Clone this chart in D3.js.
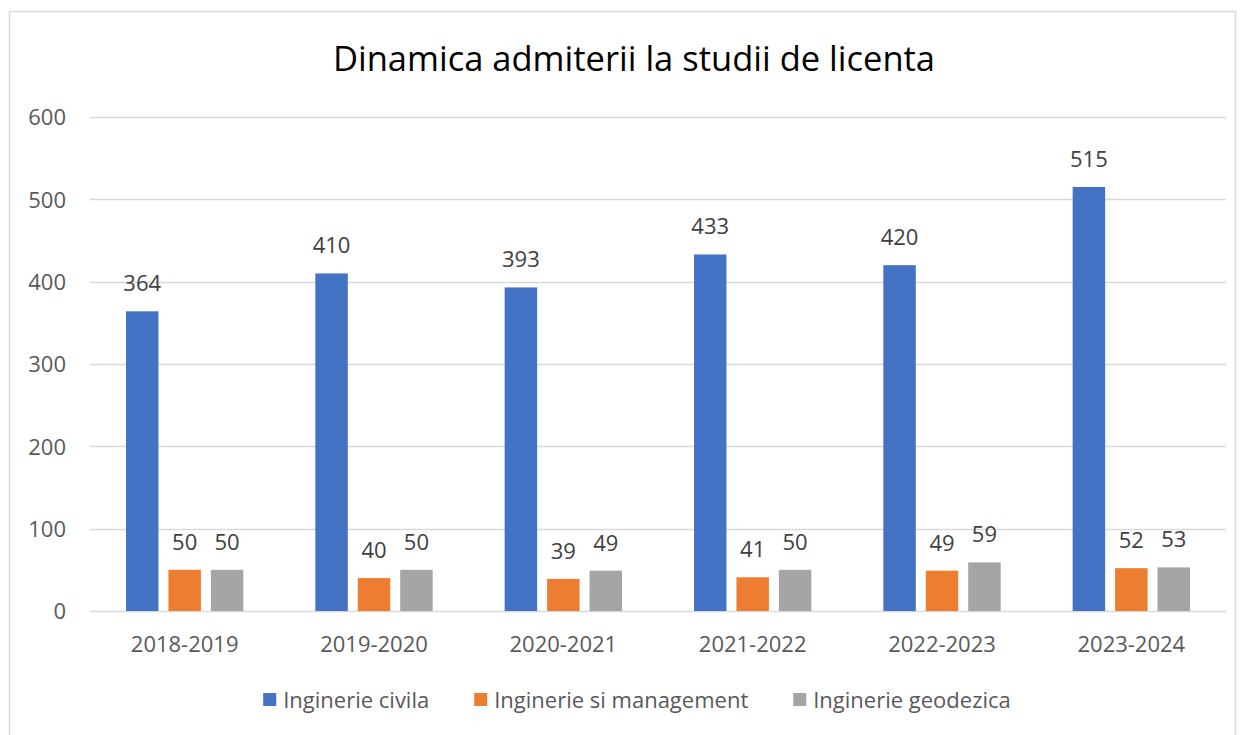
<!DOCTYPE html>
<html>
<head>
<meta charset="UTF-8">
<title>Dinamica admiterii la studii de licenta</title>
<script src="https://d3js.org/d3.v7.min.js"></script>
<style>
    body { margin: 0; background: #fff; }
    svg { display: block; font-family: "Open Sans", "Noto Sans", sans-serif; }
</style>
</head>
<body>
<svg id="chart" width="1245" height="735"></svg>
<script>
    // date
    const years = ["2018-2019", "2019-2020", "2020-2021", "2021-2022", "2022-2023", "2023-2024"];
    const seriesNames = ["Inginerie civila", "Inginerie si management", "Inginerie geodezica"];
    const civila = [364, 410, 393, 433, 420, 515];
    const management = [50, 40, 39, 41, 49, 52];
    const geodezica = [50, 50, 49, 50, 59, 53];
    const yTicks = [0, 100, 200, 300, 400, 500, 600];
    const colors = ["#4472C4", "#ED7D31", "#A5A5A5"];

    const seriesValues = [civila, management, geodezica];

    const svg = d3.select("#chart");
    const plot = { left: 90, right: 1226, top: 117, bottom: 611 };

    // chenar exterior
    svg.append("rect")
        .attr("x", 9.5).attr("y", 11.5)
        .attr("width", 1226).attr("height", 740)
        .attr("fill", "none")
        .attr("stroke", "#d9d9d9")
        .attr("stroke-width", 1.5);

    // titlu
    svg.append("text")
        .attr("x", 634).attr("y", 71)
        .attr("text-anchor", "middle")
        .attr("font-size", 34.5)
        .attr("fill", "#000")
        .text("Dinamica admiterii la studii de licenta");

    const x0 = d3.scaleBand()
        .domain(years)
        .range([plot.left, plot.right])
        .padding(0);

    const x1 = d3.scaleBand()
        .domain(seriesNames)
        .range([36, x0.bandwidth() - 36])
        .paddingInner(0.235);

    const y = d3.scaleLinear()
        .domain([0, 600])
        .range([plot.bottom, plot.top]);

    // linii de grila
    svg.append("g")
        .selectAll("line")
        .data(yTicks)
        .join("line")
        .attr("x1", plot.left).attr("x2", plot.right)
        .attr("y1", d => Math.round(y(d)) + 0.5)
        .attr("y2", d => Math.round(y(d)) + 0.5)
        .attr("stroke", "#d9d9d9")
        .attr("stroke-width", 1.5);

    // axa y
    const yAxis = svg.append("g")
        .attr("transform", `translate(${plot.left - 24},0)`)
        .call(d3.axisLeft(y).tickValues(yTicks).tickSize(0).tickPadding(0));
    yAxis.select(".domain").remove();
    yAxis.selectAll("text")
        .attr("font-size", 22)
        .attr("font-family", "Open Sans, sans-serif")
        .attr("fill", "#595959")
        .attr("dy", "0.35em");

    // axa x
    const xAxis = svg.append("g")
        .attr("transform", `translate(0,${plot.bottom})`)
        .call(d3.axisBottom(x0).tickSize(0).tickPadding(0));
    xAxis.select(".domain").remove();
    xAxis.selectAll("text")
        .attr("font-size", 22)
        .attr("font-family", "Open Sans, sans-serif")
        .attr("fill", "#595959")
        .attr("dy", null)
        .attr("y", 41);

    // bare
    const groups = svg.append("g")
        .selectAll("g")
        .data(years)
        .join("g")
        .attr("transform", d => `translate(${x0(d)},0)`);

    const cells = groups.selectAll("g")
        .data((d, i) => seriesNames.map((s, j) => ({ name: s, value: seriesValues[j][i], color: colors[j] })))
        .join("g");

    cells.append("rect")
        .attr("x", d => x1(d.name))
        .attr("width", x1.bandwidth())
        .attr("y", d => y(d.value))
        .attr("height", d => y(0) - y(d.value))
        .attr("fill", d => d.color);

    cells.append("text")
        .attr("x", d => x1(d.name) + x1.bandwidth() / 2)
        .attr("y", d => y(d.value) - 20)
        .attr("text-anchor", "middle")
        .attr("font-size", 22)
        .attr("fill", "#404040")
        .text(d => d.value);

    // legenda
    const legend = svg.append("g");
    let lx = 0;
    seriesNames.forEach((name, i) => {
        const item = legend.append("g").attr("transform", `translate(${lx},0)`);
        item.append("rect")
            .attr("x", 0).attr("y", 693)
            .attr("width", 13).attr("height", 13)
            .attr("fill", colors[i]);
        const t = item.append("text")
            .attr("x", 20).attr("y", 708)
            .attr("font-size", 22)
            .attr("fill", "#595959")
            .text(name);
        lx += 20 + t.node().getComputedTextLength() + 45;
    });
    const lw = lx - 45;
    legend.attr("transform", `translate(${637 - lw / 2},0)`);
</script>
</body>
</html>
